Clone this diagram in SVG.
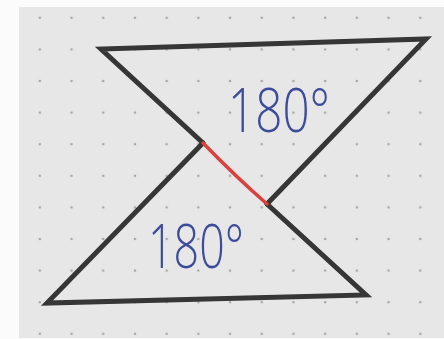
<svg xmlns="http://www.w3.org/2000/svg" width="444" height="339" viewBox="0 0 444 339">
<defs>
<pattern id="dots" patternUnits="userSpaceOnUse" x="24" y="2" width="31.7" height="31.6">
<circle cx="15.85" cy="15.8" r="1.3" fill="#a8a8a8"/>
</pattern>
<style>
.edge{fill:none;stroke:#363636;stroke-width:5;stroke-linejoin:miter;stroke-linecap:round}
.shared{fill:none;stroke:#d9413f;stroke-width:3.5;stroke-linecap:round}
.lbl{font-family:"Open Sans","Liberation Sans",Arial,sans-serif;font-weight:300;font-size:60px;fill:#3d4b9c}
</style>
</defs>
<rect x="0" y="0" width="444" height="339" fill="#fbfbfb"/>
<rect x="19" y="7" width="425" height="331" fill="#e7e7e7"/>
<rect x="19" y="7" width="425" height="331" fill="url(#dots)"/>
<g id="top-triangle">
<polyline class="edge" points="203,143 101,49 426,39 267,204"/>
<text class="lbl" x="228" y="132" textLength="102" lengthAdjust="spacingAndGlyphs">180°</text>
</g>
<g id="bottom-triangle">
<polyline class="edge" points="203,143 47,303 366,295 267,204"/>
<text class="lbl" x="148" y="268" textLength="96" lengthAdjust="spacingAndGlyphs">180°</text>
</g>
<g id="connectors">
<path class="shared" d="M203,143 Q236,177 267,204"/>
</g>
</svg>
